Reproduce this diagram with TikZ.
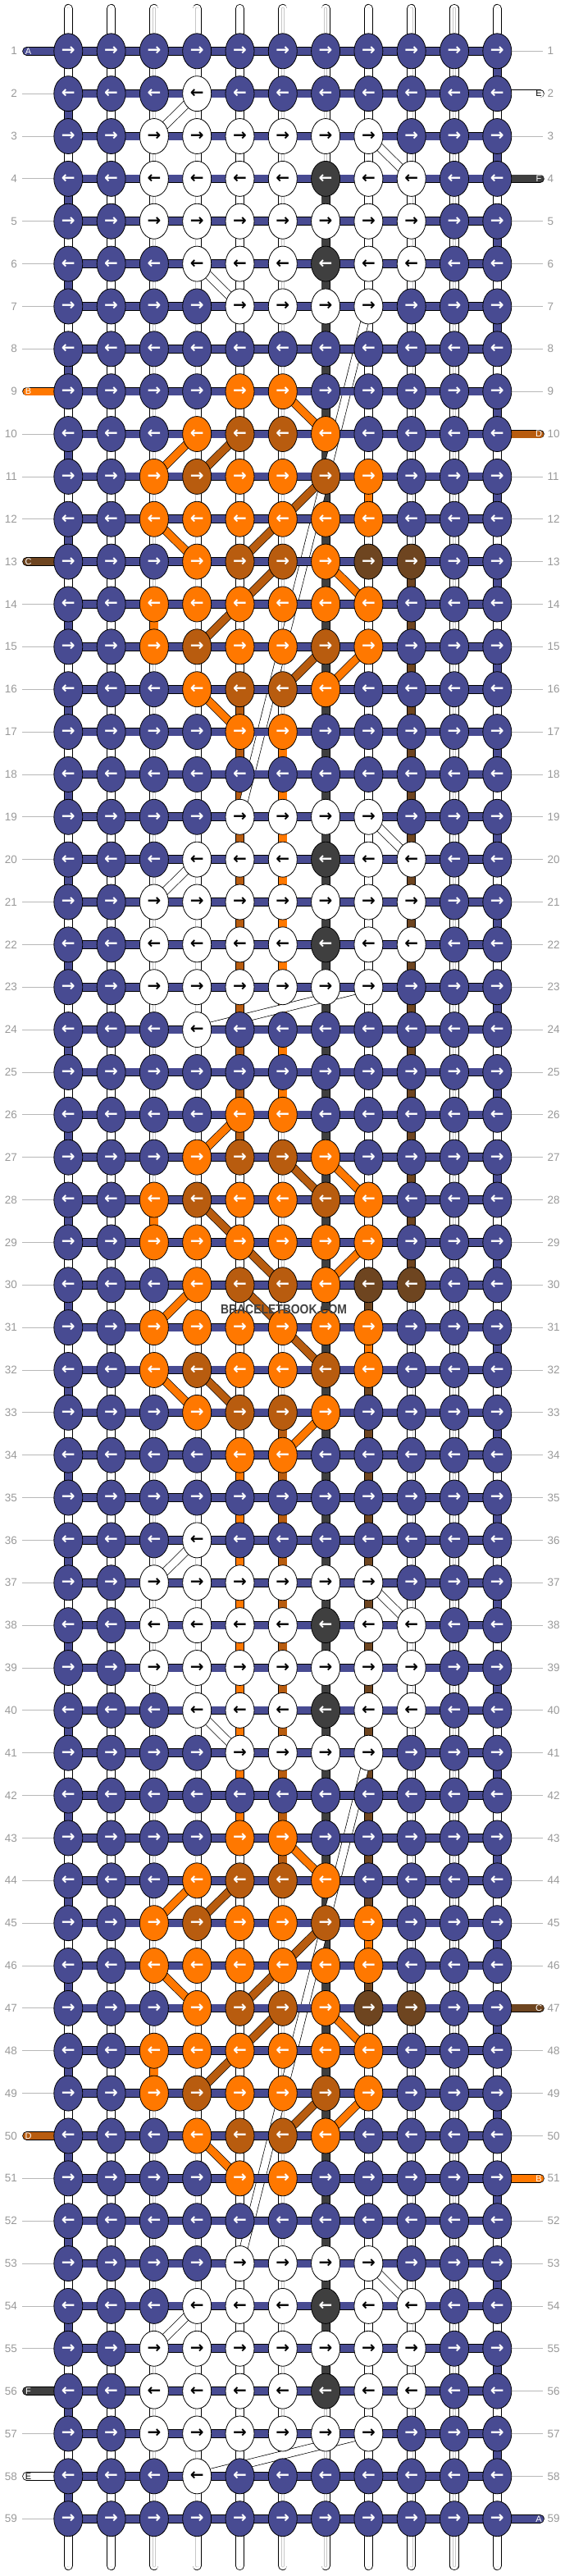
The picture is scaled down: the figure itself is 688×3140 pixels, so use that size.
\documentclass[tikz,border=0pt]{standalone}
\usepackage{fontspec}
\setmainfont{Liberation Sans}
\newfontfamily\arrowfont{DejaVu Sans}
\usepackage{tikz}
\usetikzlibrary{shapes.geometric}
\usetikzlibrary{backgrounds}
\usepackage{xcolor}

% 线色 A..F 以及结的文字颜色
\definecolor{cA}{HTML}{484B92}
\definecolor{cW}{HTML}{FFFFFF}
\definecolor{cK}{HTML}{3F3F3F}
\definecolor{cO}{HTML}{FF7800}
\definecolor{cR}{HTML}{B85C0F}
\definecolor{cN}{HTML}{6E4520}
\colorlet{tA}{white}
\colorlet{tW}{black}
\colorlet{tK}{white}
\colorlet{tO}{white}
\colorlet{tR}{white}
\colorlet{tN}{white}
\definecolor{lblgray}{HTML}{999999}

\begin{document}
\begin{tikzpicture}[x=1pt, y=-1pt]
        % ================= 样式定义 =================
        \tikzset{
            % 结:竖椭圆,箭头为文字
            knot/.style={ellipse, draw=black, line width=0.8pt, fill=c#1, text=t#1,
                minimum width=35pt, minimum height=43pt, inner sep=0pt,
                font=\arrowfont\bfseries\fontsize{20}{20}\selectfont},
            hbar/.style={draw=black, line width=0.8pt, double=cA, double distance=9pt},
            vseg/.style={draw=black, line width=0.8pt, double=#1, double distance=9.5pt},
            vgrid/.style={draw=black!22, line width=0.5pt, double=white, double distance=2.6pt},
            diag/.style={draw=black, line width=0.7pt, double=#1, double distance=9pt},
            strand/.style={draw=black, line width=0.8pt, double=#1, double distance=9pt, line cap=round},
            rowlbl/.style={text=lblgray, font=\fontsize{13.5}{14}\selectfont, inner xsep=5.5pt, inner ysep=2pt},
            lblline/.style={draw=lblgray!70, line width=0.8pt},
            endlbl/.style={font=\fontsize{11}{11}\selectfont, inner sep=0pt},
            wmark/.style={font=\bfseries\fontsize{16}{16}\selectfont, text=black!75, inner sep=0pt}
        }
        \useasboundingbox (0,0) rectangle (688,3140);

        % ================= 结 (第 1-34 行,35-59 行重复 1-25 行) =================
        \foreach \r/\row in {1/{A,A,A,A,A,A,A,A,A,A,A},
            2/{A,A,A,W,A,A,A,A,A,A,A},
            3/{A,A,W,W,W,W,W,W,A,A,A},
            4/{A,A,W,W,W,W,K,W,W,A,A},
            5/{A,A,W,W,W,W,W,W,W,A,A},
            6/{A,A,A,W,W,W,K,W,W,A,A},
            7/{A,A,A,A,W,W,W,W,A,A,A},
            8/{A,A,A,A,A,A,A,A,A,A,A},
            9/{A,A,A,A,O,O,A,A,A,A,A},
            10/{A,A,A,O,R,R,O,A,A,A,A},
            11/{A,A,O,R,O,O,R,O,A,A,A},
            12/{A,A,O,O,O,O,O,O,A,A,A},
            13/{A,A,A,O,R,R,O,N,N,A,A},
            14/{A,A,O,O,O,O,O,O,A,A,A},
            15/{A,A,O,R,O,O,R,O,A,A,A},
            16/{A,A,A,O,R,R,O,A,A,A,A},
            17/{A,A,A,A,O,O,A,A,A,A,A},
            18/{A,A,A,A,A,A,A,A,A,A,A},
            19/{A,A,A,A,W,W,W,W,A,A,A},
            20/{A,A,A,W,W,W,K,W,W,A,A},
            21/{A,A,W,W,W,W,W,W,W,A,A},
            22/{A,A,W,W,W,W,K,W,W,A,A},
            23/{A,A,W,W,W,W,W,W,A,A,A},
            24/{A,A,A,W,A,A,A,A,A,A,A},
            25/{A,A,A,A,A,A,A,A,A,A,A},
            26/{A,A,A,A,O,O,A,A,A,A,A},
            27/{A,A,A,O,R,R,O,A,A,A,A},
            28/{A,A,O,R,O,O,R,O,A,A,A},
            29/{A,A,O,O,O,O,O,O,A,A,A},
            30/{A,A,A,O,R,R,O,N,N,A,A},
            31/{A,A,O,O,O,O,O,O,A,A,A},
            32/{A,A,O,R,O,O,R,O,A,A,A},
            33/{A,A,A,O,R,R,O,A,A,A,A},
            34/{A,A,A,A,O,O,A,A,A,A,A}} {
            \foreach \cc [count=\c] in \row {
                \node[knot=\cc] (k-\r-\c) at ({83.3+52.3*(\c-1)}, {62.3+51.86*(\r-1)}) {\ifodd\r →\else ←\fi};
                \ifnum\r<26
                    \pgfmathtruncatemacro\rr{\r+34}
                    \node[knot=\cc] (k-\rr-\c) at ({83.3+52.3*(\c-1)}, {62.3+51.86*(\rr-1)}) {\ifodd\r →\else ←\fi};
                \fi
            }
        }

        % ================= 行号 =================
        \foreach \r in {1,...,59} {
            \node[rowlbl, anchor=east] (ll-\r) at (26.5, {62.3+51.86*(\r-1)}) {\r};
            \node[rowlbl, anchor=west] (rl-\r) at (662, {62.3+51.86*(\r-1)}) {\r};
        }

        % ================= 背景:竖线、斜线、横条、端线 =================
        \begin{scope}[on background layer]
            % 1. 顶部与底部的竖线
            \foreach \c in {1,...,11} {
                \coordinate (t-\c) at ({83.3+52.3*(\c-1)}, 10.5);
                \coordinate (b-\c) at ({83.3+52.3*(\c-1)}, 3127.5);
                \draw[vseg=white, line cap=round] (t-\c) -- (k-1-\c.center);
                \draw[vgrid, line cap=round] (t-\c) -- (k-1-\c.center);
                \draw[vseg=white, line cap=round] (k-59-\c.center) -- (b-\c);
                \draw[vgrid, line cap=round] (k-59-\c.center) -- (b-\c);
            }

            % 2. 结之间的竖段 (先全部画白色)
            \foreach \g [evaluate=\g as \gn using int(\g+1)] in {1,...,58} {
                \foreach \c in {1,...,11} {
                    \draw[vseg=white] (k-\g-\c.center) -- (k-\gn-\c.center);
                    \draw[vgrid] (k-\g-\c.center) -- (k-\gn-\c.center);
                }
                % 横线 A 在两边折返
                \ifodd\g
                    \draw[vseg=cA] (k-\g-11.center) -- (k-\gn-11.center);
                \else
                    \draw[vseg=cA] (k-\g-1.center) -- (k-\gn-1.center);
                \fi
            }

            % 3. 有颜色的竖段: 列/起/止/颜色
            \foreach \c/\ga/\gb/\col in {7/4/55/K, 9/13/29/N, 5/16/26/R, 6/17/25/O,
                    6/33/43/R, 5/34/42/O, 8/32/44/N, 8/30/30/N, 8/46/46/N,
                    8/11/11/O, 8/31/31/O, 8/45/45/O, 3/14/14/O, 3/28/28/O, 3/48/48/O} {
                \foreach \g [evaluate=\g as \gn using int(\g+1)] in {\ga,...,\gb} {
                    \draw[vseg=c\col] (k-\g-\c.center) -- (k-\gn-\c.center);
                }
            }

            % 4. 斜线 (每 34 行重复一次的部分)
            \foreach \off in {0,34} {
                \foreach \ca/\ra/\cb/\rb/\col in {4/2/3/3/W, 8/3/9/4/W, 4/6/5/7/W, 8/7/5/19/W,
                        8/19/9/20/W, 4/20/3/21/W, 8/23/4/24/W,
                        6/9/7/10/O, 4/10/3/11/O, 5/10/4/11/R, 7/11/5/13/R, 3/12/4/13/O,
                        7/13/8/14/O, 6/13/4/15/R, 7/15/6/16/R, 8/15/7/16/O, 4/16/5/17/O} {
                    \pgfmathtruncatemacro\ta{\ra+\off}
                    \pgfmathtruncatemacro\tb{\rb+\off}
                    \draw[diag=c\col] (k-\ta-\ca.center) -- (k-\tb-\cb.center);
                }
            }
            % 中间的菱形
            \foreach \ca/\ra/\cb/\rb/\col in {5/26/4/27/O, 6/27/7/28/R, 7/27/8/28/O, 4/28/6/30/R,
                    8/29/7/30/O, 4/30/3/31/O, 5/30/7/32/R, 3/32/4/33/O, 4/32/5/33/R, 7/33/6/34/O} {
                \draw[diag=c\col] (k-\ra-\ca.center) -- (k-\rb-\cb.center);
            }

            % 5. 横条 (线 A)
            \foreach \r in {1,...,59} {
                \foreach \c [evaluate=\c as \cn using int(\c+1)] in {1,...,10} {
                    \draw[hbar] (k-\r-\c.center) -- (k-\r-\cn.center);
                }
            }

            % 6. 行号的灰线 (有端线的行不画)
            \foreach \r in {2,...,8,10,11,12,14,15,...,49,51,52,53,54,55,57,59} {
                \draw[lblline] (ll-\r) -- (k-\r-1);
            }
            \foreach \r in {1,3,5,6,7,8,9,11,12,...,46,48,49,50,52,53,...,58} {
                \draw[lblline] (k-\r-11) -- (rl-\r);
            }

            % 7. 两侧的端线 A-F
            \foreach \r/\side/\col/\lbl in {1/L/A/A, 9/L/O/B, 13/L/N/C, 50/L/R/D, 56/L/K/F, 58/L/W/E,
                    2/R/W/E, 4/R/K/F, 10/R/R/D, 47/R/N/C, 51/R/O/B, 59/R/A/A} {
                \if\side L
                    \coordinate (s-\r) at (32.5, {62.3+51.86*(\r-1)});
                    \draw[strand=c\col] (s-\r) -- (k-\r-1.center);
                \else
                    \coordinate (s-\r) at (658.5, {62.3+51.86*(\r-1)});
                    \draw[strand=c\col] (k-\r-11.center) -- (s-\r);
                \fi
            }
        \end{scope}

        % 端线上的字母
        \foreach \r/\side/\col/\lbl in {1/L/A/A, 9/L/O/B, 13/L/N/C, 50/L/R/D, 56/L/K/F, 58/L/W/E,
                2/R/W/E, 4/R/K/F, 10/R/R/D, 47/R/N/C, 51/R/O/B, 59/R/A/A} {
            \if\side L
                \node[endlbl, text=t\col] (sl-\r) at (34.5, {62.3+51.86*(\r-1)}) {\lbl};
            \else
                \node[endlbl, text=t\col] (sl-\r) at (657, {62.3+51.86*(\r-1)}) {\lbl};
            \fi
        }

        % 水印
        \node[wmark] (wm) at (346, 1596) {\scalebox{0.87}[1]{BRACELETBOOK.COM}};
\end{tikzpicture}
\end{document}
